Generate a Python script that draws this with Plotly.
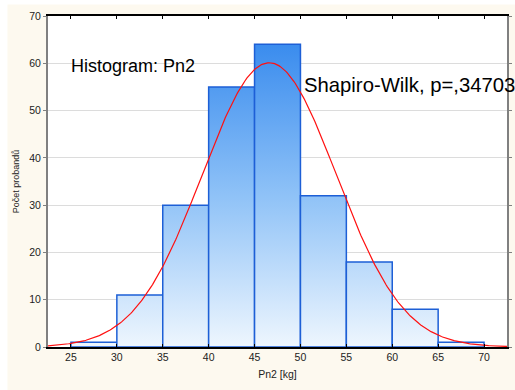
import numpy as np
import plotly.graph_objects as go

# Histogram of Pn2 body mass [kg]
bin_lo = [25, 30, 35, 40, 45, 50, 55, 60, 65]
bin_width = 5
counts = [1, 11, 30, 55, 64, 32, 18, 8, 1]

# fitted normal curve parameters
fit_mean = 46.6
fit_sd = 7.3
n_total = sum(counts)

x_ticks = [25, 30, 35, 40, 45, 50, 55, 60, 65, 70]
y_ticks = [0, 10, 20, 30, 40, 50, 60, 70]

fig = go.Figure()

grad = dict(type="vertical", colorscale=[[0, "#eef6fe"], [0.5, "#8fc2f7"], [1, "#3a8cee"]],
            start=0, stop=max(counts))

for lo, c in zip(bin_lo, counts):
    hi = lo + bin_width
    fig.add_trace(go.Scatter(
        x=[lo, lo, hi, hi, lo], y=[0, c, c, 0, 0],
        mode="lines", fill="toself", fillgradient=grad,
        line=dict(color="#1d5fd6", width=1.5),
        hoverinfo="skip", showlegend=False))

xs = np.linspace(22.5, 72.5, 400)
ys = n_total * bin_width / (fit_sd * np.sqrt(2 * np.pi)) * np.exp(-0.5 * ((xs - fit_mean) / fit_sd) ** 2)
fig.add_trace(go.Scatter(x=xs, y=ys, mode="lines", line=dict(color="#ff1010", width=1.2),
                         hoverinfo="skip", showlegend=False))

font_family = "Liberation Sans, Arial, sans-serif"

fig.update_layout(
    width=515, height=390,
    margin=dict(l=48, r=3, t=16, b=43),
    paper_bgcolor="#fdf9ef",
    plot_bgcolor="white",
    font=dict(family=font_family, color="#222222"),
    xaxis=dict(range=[22.5, 72.5], tickvals=x_ticks, ticks="inside", ticklen=3,
               tickcolor="black", showline=True, linecolor="black", linewidth=1.5,
               mirror="ticks", showgrid=False, zeroline=False,
               tickfont=dict(size=10.5),
               title=dict(text="Pn2 [kg]", font=dict(size=10.5), standoff=8)),
    yaxis=dict(range=[0, 70], tickvals=y_ticks, ticks="outside", ticklen=3,
               tickcolor="#808080", showline=True, linecolor="#808080", linewidth=2,
               mirror="ticks", showgrid=True, gridcolor="#dcdcdc", gridwidth=1,
               zeroline=False, tickfont=dict(size=10.5),
               title=dict(text="Počet probandů", font=dict(size=9), standoff=8)),
    annotations=[
        dict(x=24.8, y=59.5, xref="x", yref="y", text="Histogram: Pn2", showarrow=False,
             xanchor="left", yanchor="middle", font=dict(size=18, color="black")),
        dict(x=50.2, y=55.5, xref="x", yref="y", text="Shapiro-Wilk, p=,34703", showarrow=False,
             xanchor="left", yanchor="middle", font=dict(size=20.3, color="black")),
    ],
    shapes=[
        dict(type="rect", xref="paper", yref="paper", x0=-0.2, x1=(7 - 48) / 464, y0=-0.2, y1=1.2,
             fillcolor="white", line=dict(width=0), layer="below"),
        dict(type="rect", xref="paper", yref="paper", x0=-0.2, x1=1.2, y0=1 + (15.5 - 4) / 331.5, y1=1.2,
             fillcolor="white", line=dict(width=0), layer="below"),
    ],
)

fig.write_html("out.html")
